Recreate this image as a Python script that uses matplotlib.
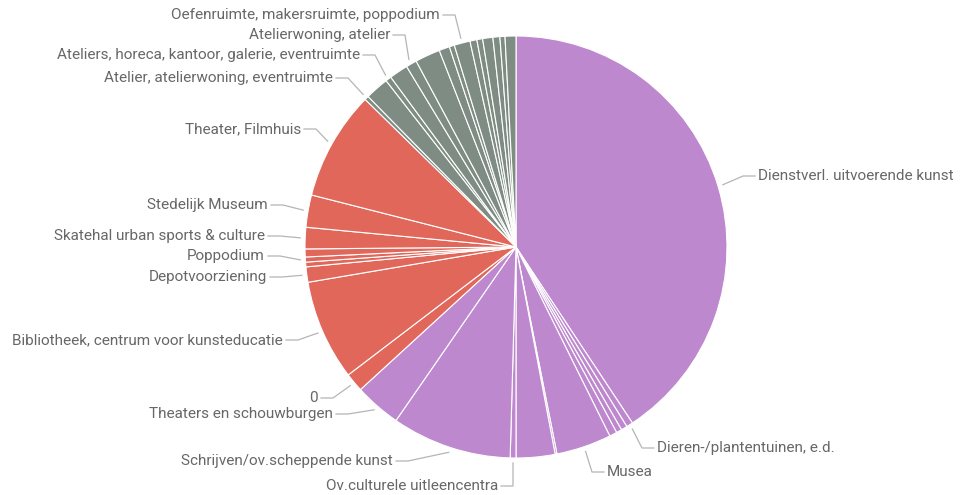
import matplotlib.pyplot as plt
import numpy as np

plt.rcParams['font.family'] = ['Roboto', 'DejaVu Sans']

# slices in drawing order, clockwise from 12 o'clock; None = slice without a data label
names = [
    "Dienstverl. uitvoerende kunst", "Dieren-/plantentuinen, e.d.", None, None, None,
    "Musea", None, None, "Ov.culturele uitleencentra", "Schrijven/ov.scheppende kunst",
    "Theaters en schouwburgen",
    "0", "Bibliotheek, centrum voor kunsteducatie", "Depotvoorziening", None,
    "Poppodium", None, "Skatehal urban sports & culture", "Stedelijk Museum",
    "Theater, Filmhuis",
    "Atelier, atelierwoning, eventruimte", None,
    "Ateliers, horeca, kantoor, galerie, eventruimte", None,
    "Atelierwoning, atelier", None, None, None,
    "Oefenruimte, makersruimte, poppodium", None, None, None, None, None, None,
]
values = [
    40.69, 0.50, 0.47, 0.42, 0.58, 4.22, 0.14, 2.97, 0.44, 9.19, 3.56,
    1.44, 7.69, 1.17, 0.36, 0.39, 0.61, 1.64, 2.47, 8.36,
    0.31, 1.81, 0.44, 1.44, 0.83, 1.92, 0.81, 0.39, 1.22, 0.53, 0.44, 0.78,
    0.53, 0.39, 0.83,
]
groups = ["a"] * 11 + ["b"] * 9 + ["c"] * 15

GROUP_COLOR = {"a": "#BE88CF", "b": "#E0675A", "c": "#7E8C83"}
TEXT_COLOR = "#676767"
LEADER_COLOR = "#B5B5B5"

# label placement in image pixels (x, y from top, alignment)
LABEL_POS = {
    "Oefenruimte, makersruimte, poppodium": (440, 15, "right"),
    "Atelierwoning, atelier": (390, 35, "right"),
    "Ateliers, horeca, kantoor, galerie, eventruimte": (360, 55, "right"),
    "Atelier, atelierwoning, eventruimte": (333, 78, "right"),
    "Theater, Filmhuis": (301, 129, "right"),
    "Stedelijk Museum": (268, 205, "right"),
    "Skatehal urban sports & culture": (265, 236, "right"),
    "Poppodium": (265, 256, "right"),
    "Depotvoorziening": (267, 277, "right"),
    "Bibliotheek, centrum voor kunsteducatie": (283, 340, "right"),
    "0": (318, 398, "right"),
    "Theaters en schouwburgen": (333, 414, "right"),
    "Schrijven/ov.scheppende kunst": (393, 461, "right"),
    "Ov.culturele uitleencentra": (498, 486, "right"),
    "Musea": (607, 472, "left"),
    "Dieren-/plantentuinen, e.d.": (657, 448, "left"),
    "Dienstverl. uitvoerende kunst": (758, 176, "left"),
}

W, H = 961, 495
CX, CY, R = 516, H - 247, 211

fig = plt.figure(figsize=(W / 100, H / 100), dpi=100)
ax = fig.add_axes([0, 0, 1, 1])

wedges, _ = ax.pie(values, colors=[GROUP_COLOR[g] for g in groups],
                   startangle=90, counterclock=False, center=(CX, CY),
                   radius=R, frame=True,
                   wedgeprops=dict(edgecolor="white", linewidth=0.8))

for w, name in zip(wedges, names):
    if name is None:
        continue
    lx, ly, ha = LABEL_POS[name]
    ly = H - ly
    mid = np.deg2rad((w.theta1 + w.theta2) / 2)
    ex, ey = CX + (R + 5) * np.cos(mid), CY + (R + 5) * np.sin(mid)
    sign = 1 if ha == "right" else -1
    ax.plot([lx + sign * 3, lx + sign * 15, ex], [ly, ly, ey],
            color=LEADER_COLOR, linewidth=0.9, solid_joinstyle="round")
    ax.text(lx, ly, name, ha=ha, va="center", fontsize=11, color=TEXT_COLOR)

ax.set_xlim(0, W)
ax.set_ylim(0, H)
ax.set_aspect("equal")
ax.axis("off")

fig.savefig("out.png", dpi=100, facecolor="white")
